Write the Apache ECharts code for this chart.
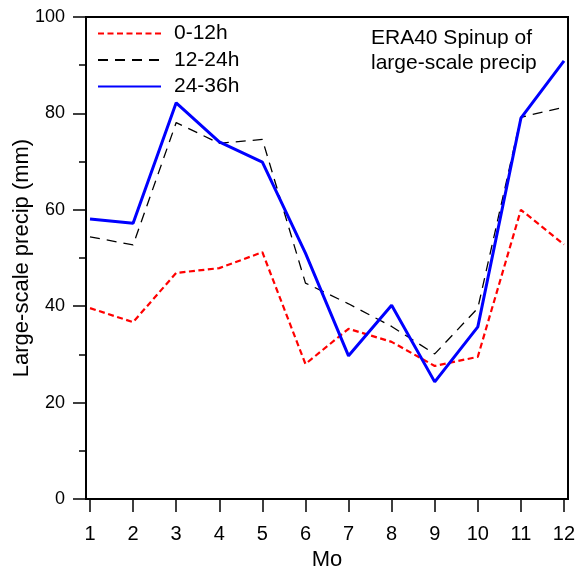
<!DOCTYPE html>
<html>
<head>
<meta charset="utf-8">
<script src="https://cdn.jsdelivr.net/npm/echarts@6/dist/echarts.min.js"></script>
<style>
html,body{margin:0;padding:0;background:#fff;}
#chart{width:579px;height:574px;}
</style>
</head>
<body>
<div id="chart"></div>
<script>
var months = [1,2,3,4,5,6,7,8,9,10,11,12];
var yTicks = [0,20,40,60,80,100];
var s0_12 = [39.6,36.7,46.9,47.9,51.2,28.0,35.3,32.6,27.6,29.5,60.0,52.8];
var s12_24 = [54.4,52.7,78.1,73.8,74.6,44.8,40.5,35.8,30.1,39.6,79.2,81.3];
var s24_36 = [58.1,57.2,82.2,74.1,69.9,51.0,29.7,40.2,24.3,35.7,79.0,90.9];
var seriesNames = ['0-12h','12-24h','24-36h'];

function pairs(vals){ return months.map(function(m,i){ return [m, vals[i]]; }); }

var FONT = '"Liberation Sans", Arial, sans-serif';
var chart = echarts.init(document.getElementById('chart'));
chart.setOption({
  animation: false,
  backgroundColor: '#fff',
  grid: {left: 86, right: 11, top: 17, bottom: 75, show: true, borderColor: '#000', borderWidth: 2,
         backgroundColor: 'transparent', containLabel: false, outerBoundsMode: 'none'},
  legend: {
    orient: 'vertical', left: 92, top: 18, itemWidth: 63, itemHeight: 14, itemGap: 5.5,
    data: seriesNames,
    itemStyle: {opacity: 0},
    textStyle: {fontFamily: FONT, fontSize: 21, color: '#000', padding: [0,0,0,8]}
  },
  xAxis: {
    type: 'value', min: 0.907, max: 12.093,
    name: 'Mo', nameLocation: 'middle', nameGap: 50, nameMoveOverlap: false,
    nameTextStyle: {fontFamily: FONT, fontSize: 22, color: '#000'},
    axisLine: {show: true, onZero: false, lineStyle: {color: '#000', width: 2}},
    axisTick: {show: true, inside: false, length: 13, customValues: months, lineStyle: {color: '#000', width: 1.5}},
    axisLabel: {customValues: months, margin: 25, fontFamily: FONT, fontSize: 20, color: '#000'},
    splitLine: {show: false}
  },
  yAxis: {
    type: 'value', min: 0, max: 100, interval: 20,
    name: 'Large-scale precip (mm)', nameLocation: 'middle', nameGap: 53, nameRotate: 90, nameMoveOverlap: false,
    nameTextStyle: {fontFamily: FONT, fontSize: 22, color: '#000'},
    axisLine: {show: true, lineStyle: {color: '#000', width: 2}},
    axisTick: {show: true, length: 13, lineStyle: {color: '#000', width: 1.5}},
    minorTick: {show: true, splitNumber: 2, length: 7, lineStyle: {color: '#000', width: 1.5}},
    axisLabel: {margin: 21, fontFamily: FONT, fontSize: 18, color: '#000',
      formatter: function(v){ return yTicks.indexOf(v) >= 0 ? String(v) : ''; }},
    splitLine: {show: false}
  },
  graphic: [{
    type: 'text', left: 371, top: 26,
    style: {text: 'ERA40 Spinup of\nlarge-scale precip', font: '21px ' + FONT, fill: '#000', lineHeight: 25}
  }],
  series: [
    {name: seriesNames[0], type: 'line', data: pairs(s0_12), showSymbol: false, symbol: 'none',
     lineStyle: {color: '#ff0000', width: 2.2, type: [6,3.5]}, itemStyle: {color: '#ff0000'}, z: 3},
    {name: seriesNames[1], type: 'line', data: pairs(s12_24), showSymbol: false, symbol: 'none',
     lineStyle: {color: '#000000', width: 1.3, type: [10,7]}, itemStyle: {color: '#000'}, z: 2},
    {name: seriesNames[2], type: 'line', data: pairs(s24_36), showSymbol: false, symbol: 'none',
     lineStyle: {color: '#0000ff', width: 3}, itemStyle: {color: '#0000ff'}, z: 4}
  ]
});
</script>
</body>
</html>
